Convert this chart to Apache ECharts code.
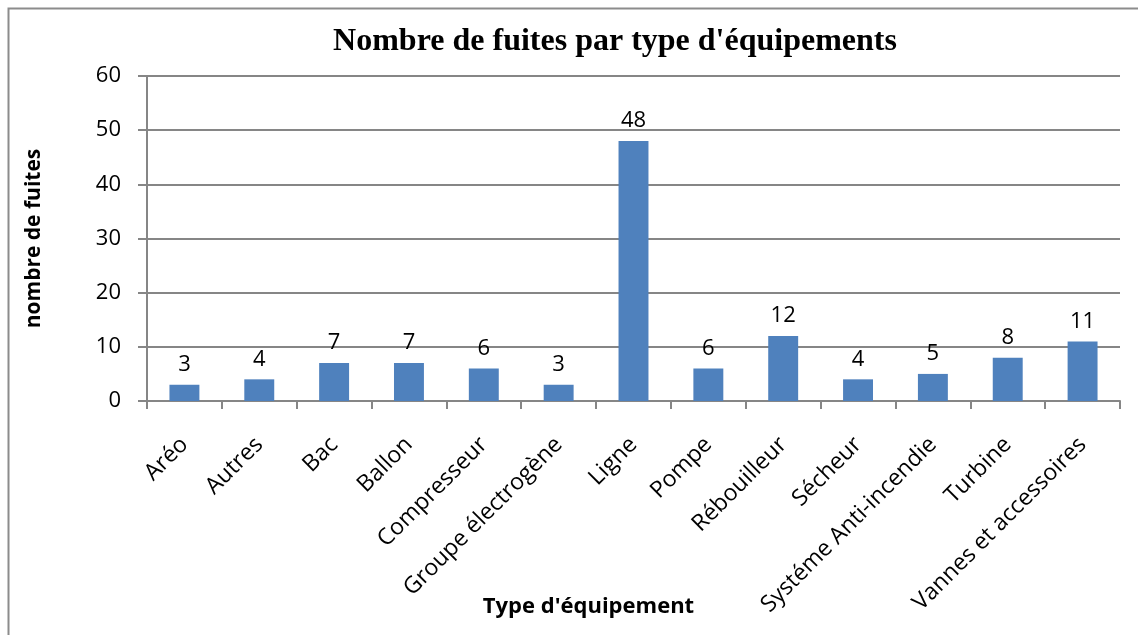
<!DOCTYPE html>
<html>
<head>
<meta charset="utf-8">
<script src="https://cdn.jsdelivr.net/npm/echarts@6/dist/echarts.min.js"></script>
<style>
  html, body { margin: 0; padding: 0; background: #fff; }
  #chart { width: 1138px; height: 635px; }
</style>
</head>
<body>
<div id="chart"></div>
<script>
// données
var categories = ['Aréo', 'Autres', 'Bac', 'Ballon', 'Compresseur', 'Groupe électrogène', 'Ligne',
  'Pompe', 'Rébouilleur', 'Sécheur', 'Systéme Anti-incendie', 'Turbine', 'Vannes et accessoires'];
var fuites = [3, 4, 7, 7, 6, 3, 48, 6, 12, 4, 5, 8, 11];

var labelFont = '"Open Sans", "DejaVu Sans", sans-serif';
var gridColor = '#868686';

var myChart = echarts.init(document.getElementById('chart'));
var option = {
  backgroundColor: '#ffffff',
  animation: false,
  title: {
    text: "Nombre de fuites par type d'équipements",
    left: 610,
    textAlign: 'center',
    top: 21,
    textStyle: {
      fontFamily: '"Liberation Serif", "Times New Roman", serif',
      fontWeight: 'bold',
      fontSize: 32,
      color: '#000'
    }
  },
  // cadre du graphique (bord gauche et haut)
  graphic: [{
    type: 'polyline',
    shape: { points: [[8.5, 635], [8.5, 8.5], [1138, 8.5]] },
    style: { stroke: '#8c8c8c', lineWidth: 2, fill: null },
    silent: true
  }],
  grid: {
    left: 147,
    right: 18,
    top: 76,
    bottom: 234,
    containLabel: false,
    outerBoundsMode: 'none'
  },
  xAxis: {
    type: 'category',
    data: categories,
    name: "Type d'équipement",
    nameLocation: 'middle',
    nameGap: 195,
    nameMoveOverlap: false,
    nameTextStyle: {
      fontFamily: labelFont,
      fontWeight: 'bold',
      fontSize: 22,
      color: '#000',
      padding: [0, 90, 0, 0]
    },
    axisLine: { lineStyle: { color: gridColor, width: 2 } },
    axisTick: { show: true, alignWithLabel: false, length: 8, lineStyle: { color: gridColor, width: 2 } },
    axisLabel: {
      interval: 0,
      rotate: 45,
      margin: 40,
      fontFamily: labelFont,
      fontSize: 23,
      color: '#000'
    }
  },
  yAxis: {
    type: 'value',
    min: 0,
    max: 60,
    interval: 10,
    name: 'nombre de fuites',
    nameLocation: 'middle',
    nameGap: 102,
    nameMoveOverlap: false,
    nameTextStyle: {
      fontFamily: labelFont,
      fontWeight: 'bold',
      fontSize: 21,
      color: '#000'
    },
    axisLine: { show: true, lineStyle: { color: gridColor, width: 2 } },
    axisTick: { show: true, length: 9, lineStyle: { color: gridColor, width: 2 } },
    splitLine: { lineStyle: { color: gridColor, width: 2 } },
    axisLabel: {
      margin: 26,
      fontFamily: labelFont,
      fontSize: 22,
      color: '#000'
    }
  },
  series: [{
    type: 'bar',
    data: fuites,
    barWidth: '40%',
    itemStyle: { color: '#4F81BD' },
    label: {
      show: true,
      position: 'top',
      distance: 9,
      fontFamily: labelFont,
      fontSize: 22,
      color: '#000'
    }
  }]
};
myChart.setOption(option);
window.onresize = function () { myChart.resize(); };
</script>
</body>
</html>
